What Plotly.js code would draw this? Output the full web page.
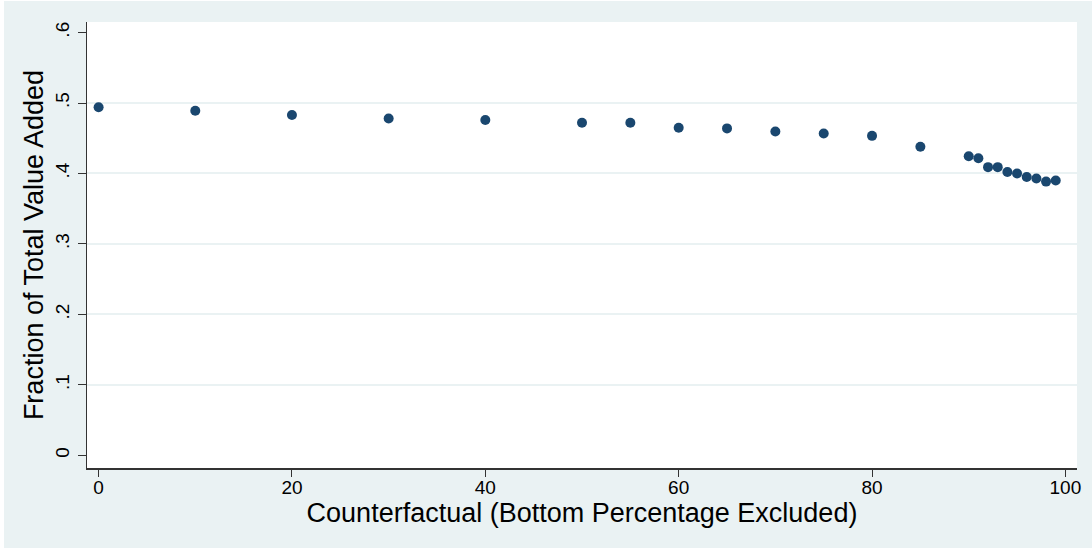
<!DOCTYPE html>
<html>
<head>
<meta charset="utf-8">
<script src="https://cdn.plot.ly/plotly-3.0.1.min.js"></script>
<style>
html,body{margin:0;padding:0;background:#ffffff;}
#chart{position:absolute;left:4px;top:1px;width:1088px;height:547px;}
</style>
</head>
<body>
<div id="chart"></div>
<script>
const counterfactual = [0, 10, 20, 30, 40, 50, 55, 60, 65, 70, 75, 80, 85, 90, 91, 92, 93, 94, 95, 96, 97, 98, 99];
const fractionVA = [0.494, 0.489, 0.483, 0.478, 0.476, 0.472, 0.472, 0.465, 0.464, 0.4595, 0.4567, 0.4534, 0.438, 0.4245, 0.4216, 0.409, 0.409, 0.402, 0.400, 0.395, 0.393, 0.3885, 0.390];
const yTickVals = [0, 0.1, 0.2, 0.3, 0.4, 0.5, 0.6];
const yTickText = ['0', '.1', '.2', '.3', '.4', '.5', '.6'];
const gridVals = [0.1, 0.2, 0.3, 0.4, 0.5];
const xTickVals = [0, 20, 40, 60, 80, 100];

const bg = '#eaf2f3';
const font = 'Liberation Sans, Arial, sans-serif';

const trace = {
  x: counterfactual, y: fractionVA,
  type: 'scatter', mode: 'markers',
  marker: {color: '#1a476f', size: 10, line: {width: 0}},
  hoverinfo: 'x+y', showlegend: false
};

const layout = {
  width: 1088, height: 547,
  paper_bgcolor: bg, plot_bgcolor: '#ffffff',
  margin: {l: 83, r: 15, t: 21, b: 80},
  font: {family: font, color: '#000000'},
  xaxis: {
    range: [-1.2, 101.2],
    tickvals: xTickVals,
    ticks: 'outside', ticklen: 7, tickcolor: '#333333', tickwidth: 1,
    ticklabelstandoff: -5,
    showgrid: false, zeroline: false,
    showline: true, linecolor: '#333333', linewidth: 1.5,
    tickfont: {size: 19, family: font},
    title: {text: 'Counterfactual (Bottom Percentage Excluded)', font: {size: 27, family: font}, standoff: 0}
  },
  yaxis: {
    range: [-0.018, 0.615],
    tickvals: yTickVals, ticktext: yTickText,
    tickangle: -90,
    ticks: 'outside', ticklen: 8, tickcolor: '#333333', tickwidth: 1,
    ticklabelstandoff: 1,
    showgrid: false, zeroline: false,
    showline: true, linecolor: '#333333', linewidth: 1.5,
    tickfont: {size: 19, family: font},
    title: {text: 'Fraction of Total Value Added', font: {size: 27, family: font}, standoff: 0}
  },
  yaxis2: {
    overlaying: 'y', range: [-0.018, 0.615],
    tickvals: gridVals, showticklabels: false, ticks: '',
    showgrid: true, gridcolor: bg, gridwidth: 2,
    zeroline: false, showline: false, layer: 'below traces'
  }
};

const gridTrace = {x: [null], y: [null], yaxis: 'y2', type: 'scatter', mode: 'markers', showlegend: false, hoverinfo: 'skip'};

Plotly.newPlot('chart', [gridTrace, trace], layout, {displayModeBar: false, staticPlot: true});
</script>
</body>
</html>
